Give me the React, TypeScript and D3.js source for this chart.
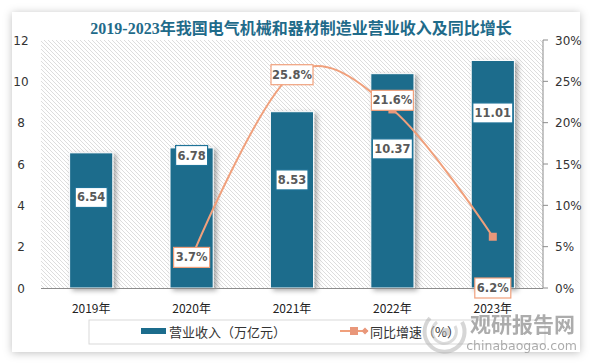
import React from "react";
import * as d3 from "d3";

const years = ["2019年", "2020年", "2021年", "2022年", "2023年"];
const revenue = [6.54, 6.78, 8.53, 10.37, 11.01];
const growthYears = ["2020年", "2021年", "2022年", "2023年"];
const growth = [3.7, 25.8, 21.6, 6.2];
const leftTicks = [0, 2, 4, 6, 8, 10, 12];
const rightTicks = [0, 5, 10, 15, 20, 25, 30];
// label anchors (in data units) as placed in the original chart
const revenueLabelAt = [4.38, 6.41, 5.23, 6.73, 8.47];
const growthLabelAt = [3.7, 25.8, 22.7, 0];

const W = 594, H = 364;
const L = 41, R = 543, T = 40, B = 288;
const BAR = "#1c6c8c";
const LINE = "#f0a07c";
const MARK = "#e9977a";

export default function App() {
  const x = d3.scaleBand<string>().domain(years).range([L, R]).paddingInner(0.57).paddingOuter(0.285);
  const yL = d3.scaleLinear().domain([0, 12]).range([B, T]);
  const yR = d3.scaleLinear().domain([0, 30]).range([B, T]);
  const cx = (c: string) => (x(c) as number) + x.bandwidth() / 2;
  const linePts: [number, number][] = growthYears.map((c, i) => [cx(c), yR(growth[i])]);
  const linePath = d3.line().curve(d3.curveCardinal.tension(0))(linePts) || "";
  const font = "'DejaVu Sans', 'Noto Sans CJK SC', sans-serif";
  const cjk = "'Noto Sans CJK SC', 'DejaVu Sans', sans-serif";

  const labelBox = (key: string, px: number, py: number, text: string, stroke: string, w: number) => (
    <g key={key}>
      <rect x={px - w / 2} y={py - 10} width={w} height={20} fill="#fff" stroke={stroke} strokeWidth={1.2} />
      <text x={px} y={py + 4} textAnchor="middle" fontFamily={font} fontWeight="bold" fontSize={11.5} fill="#595959">{text}</text>
    </g>
  );

  return (
    <svg width={W} height={H} style={{ position: "absolute", left: 0, top: 0, background: "#fff" }}>
      <defs>
        <filter id="card" x="-10%" y="-10%" width="120%" height="120%">
          <feDropShadow dx="0" dy="1" stdDeviation="4" floodColor="#000" floodOpacity="0.25" />
        </filter>
        <filter id="bsh" x="-30%" y="-10%" width="170%" height="130%">
          <feDropShadow dx="3" dy="2" stdDeviation="2.5" floodColor="#000" floodOpacity="0.35" />
        </filter>
        <pattern id="hatch" width="4" height="4" patternUnits="userSpaceOnUse">
          <path d="M-1,-1 L5,5 M3,-1 L5,1 M-1,3 L1,5" stroke="#d4d4d4" strokeWidth="0.8" />
        </pattern>
      </defs>
      <rect x={12} y={12} width={568} height={340} fill="#fff" filter="url(#card)" />
      <text x={301} y={34} textAnchor="middle" fontFamily="'Liberation Serif', 'Noto Sans CJK SC', serif" fontWeight="bold" fontSize={16} fill="#1f6b8a">
        2019-2023年我国电气机械和器材制造业营业收入及同比增长
      </text>
      <rect x={L} y={T} width={R - L} height={B - T} fill="url(#hatch)" />
      {leftTicks.map((t) => (
        <text key={"l" + t} x={21} y={yL(t) + 4.5} textAnchor="middle" fontFamily={font} fontSize={12} fill="#333">{t}</text>
      ))}
      <line x1={R} x2={R} y1={T} y2={B} stroke="#8c8c8c" strokeWidth={1} />
      {rightTicks.map((t) => (
        <g key={"r" + t}>
          <line x1={R} x2={R + 5} y1={yR(t)} y2={yR(t)} stroke="#8c8c8c" />
          <text x={555} y={yR(t) + 4.5} fontFamily={font} fontSize={12} fill="#333">{t}%</text>
        </g>
      ))}
      {years.map((c, i) => (
        <rect key={"b" + c} x={x(c)} y={yL(revenue[i])} width={x.bandwidth()} height={B - yL(revenue[i])}
          fill={BAR} stroke="#fff" strokeWidth={1} filter="url(#bsh)" />
      ))}
      <line x1={L} x2={R} y1={B + 0.5} y2={B + 0.5} stroke="#8c8c8c" strokeWidth={1} />
      {years.map((c) => (
        <text key={"c" + c} x={cx(c)} y={313} textAnchor="middle" fontFamily={cjk} fontSize={12} fill="#222">{c}</text>
      ))}
      <path d={linePath} fill="none" stroke={LINE} strokeWidth={2} />
      {linePts.map(([px, py], i) => (
        <rect key={"m" + i} x={px - 4} y={py - 4} width={8} height={8} fill={MARK} />
      ))}
      {years.map((c, i) => labelBox("bl" + i, cx(c), yL(revenueLabelAt[i]), revenue[i].toFixed(2), "#1f7398", revenue[i] >= 10 ? 40 : 32))}
      {growthYears.map((c, i) => labelBox("gl" + i, cx(c), yR(growthLabelAt[i]), growth[i].toFixed(1) + "%", LINE, growth[i] >= 10 ? 42 : 36))}
      <rect x={89} y={320} width={456} height={24} fill="none" stroke="#d9d9d9" strokeWidth={1} />
      <rect x={141} y={328} width={25} height={6} fill={BAR} />
      <text x={169} y={337} fontFamily={cjk} fontSize={13} fill="#333">营业收入（万亿元）</text>
      <line x1={340} x2={368} y1={331} y2={331} stroke={LINE} strokeWidth={2} />
      <rect x={350} y={327} width={8} height={8} fill={MARK} />
      <path d="M365,327.5 L368.5,331 L365,334.5 L361.5,331 Z" fill={MARK} />
      <text x={370} y={337} fontFamily={cjk} fontSize={13} fill="#333">同比增速（%）</text>
      <g opacity={0.55}>
        <path d="M430,318 A20,20 0 1,0 462,322" fill="none" stroke="#b5b5b5" strokeWidth={4} />
        <path d="M437,322 A12,12 0 1,0 455,326" fill="none" stroke="#c0c0c0" strokeWidth={3} />
        <circle cx={446} cy={332} r={4} fill="#b5b5b5" />
      </g>
      <text x={470} y={332} fontFamily={cjk} fontWeight="bold" fontSize={21} fill="#9e9e9e" opacity={0.85}>观研报告网</text>
      <text x={577} y={350} textAnchor="end" fontFamily={font} fontSize={12.5} fill="#9e9e9e" opacity={0.85}>chinabaogao.com</text>
    </svg>
  );
}
